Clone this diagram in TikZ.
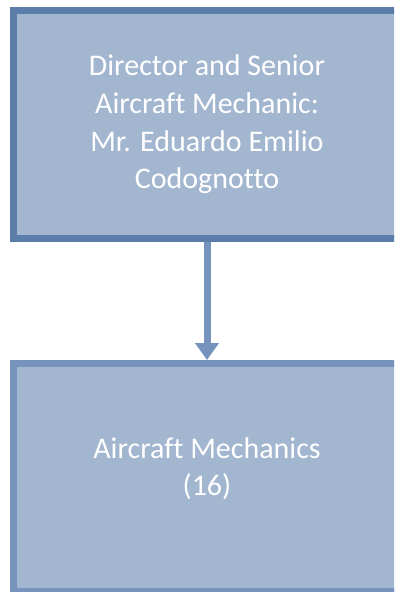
\documentclass[tikz,border=0pt]{standalone}
\usepackage{fontspec}
\setmainfont{Carlito}[Ligatures=NoCommon]
\usepackage{tikz}
\usetikzlibrary{arrows.meta,positioning}

\definecolor{boxfill}{HTML}{A3B6D0}
\definecolor{boxedge}{HTML}{5A7DAA}
\definecolor{linkblue}{HTML}{7593BC}

\begin{document}
\begin{tikzpicture}[y=1pt, x=1pt, yscale=-1,
    orgbox/.style={rectangle, fill=boxfill, line width=7pt, text=white,
      minimum width=387pt, minimum height=228pt, inner sep=0pt, align=center,
      font=\fontsize{30}{37.7}\selectfont},
    link/.style={draw=linkblue, line width=7pt,
      -{Triangle[width=23pt,length=17pt]}}]
  \useasboundingbox (0,0) rectangle (394,592);
  \clip (0,0) rectangle (394,592);
  \node[orgbox, draw=boxedge]
    (director) at (207,124.5) {Director and Senior\\Aircraft Mechanic:\\Mr.
    Eduardo Emilio\\Codognotto};
  \node[orgbox, draw=linkblue, text depth=22pt]
    (mechanics) at (207,477.5) {Aircraft Mechanics\\(16)};
  \path[link] (director.south) -- (mechanics.north);

\end{tikzpicture}
\end{document}
